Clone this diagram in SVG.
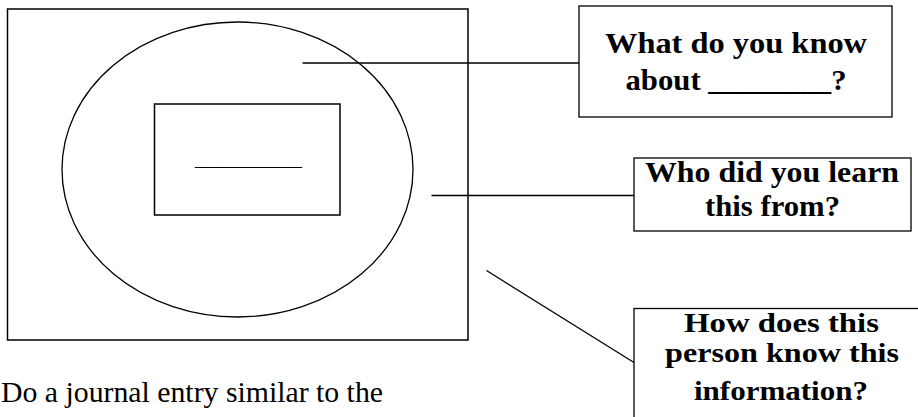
<svg xmlns="http://www.w3.org/2000/svg" width="918" height="417" viewBox="0 0 918 417">
<style>
.s{fill:none;stroke:#000;stroke-width:1.5}
.c{fill:none;stroke:#000;stroke-width:1.3}
.b{fill:#fff;stroke:#000;stroke-width:1.3}
.q{font-family:"Liberation Serif","Times New Roman",Times,"DejaVu Serif",serif;font-weight:bold;font-size:30px;fill:#000;text-anchor:middle}
.q3{font-size:27px}
.t{font-family:"Liberation Serif","Times New Roman",Times,"DejaVu Serif",serif;font-weight:normal;font-size:30px;fill:#000}
</style>
<rect width="918" height="417" fill="#fff"/>
<g id="frame">
<rect class="s" x="7.5" y="9" width="460.5" height="331"/>
</g>
<g id="circle">
<ellipse class="c" cx="237.5" cy="169.5" rx="175.5" ry="147.5"/>
</g>
<g id="center">
<rect class="s" x="154.5" y="104" width="185.5" height="111"/>
<text x="195" y="166" font-family="'Liberation Serif','Times New Roman',serif" font-size="16" textLength="107" lengthAdjust="spacingAndGlyphs">_________</text>
</g>
<g id="connectors">
<line class="c" x1="302.5" y1="63" x2="579" y2="63"/>
<line class="c" x1="431.5" y1="195.5" x2="634" y2="195.5"/>
<line class="c" x1="486.5" y1="270.5" x2="634" y2="362.5"/>
</g>
<g id="q1">
<rect class="b" x="579" y="6" width="313" height="111"/>
<text class="q" x="736" y="53" textLength="262" lengthAdjust="spacingAndGlyphs">What do you know</text>
<text class="q" x="736" y="90" textLength="221" lengthAdjust="spacingAndGlyphs">about ________?</text>
</g>
<g id="q2">
<rect class="b" x="634" y="158" width="277" height="73"/>
<text class="q" x="772" y="181.5" textLength="254" lengthAdjust="spacingAndGlyphs">Who did you learn</text>
<text class="q" x="772.5" y="215.5" textLength="135" lengthAdjust="spacingAndGlyphs">this from?</text>
</g>
<g id="q3">
<rect class="b" x="634" y="308.5" width="300" height="120"/>
<text class="q q3" x="781.5" y="332" textLength="195" lengthAdjust="spacingAndGlyphs">How does this</text>
<text class="q q3" x="782" y="362" textLength="234" lengthAdjust="spacingAndGlyphs">person know this</text>
<text class="q q3" x="781" y="399.5" textLength="174" lengthAdjust="spacingAndGlyphs">information?</text>
</g>
<text class="t" x="1" y="402" textLength="382" lengthAdjust="spacingAndGlyphs">Do a journal entry similar to the</text>
</svg>
